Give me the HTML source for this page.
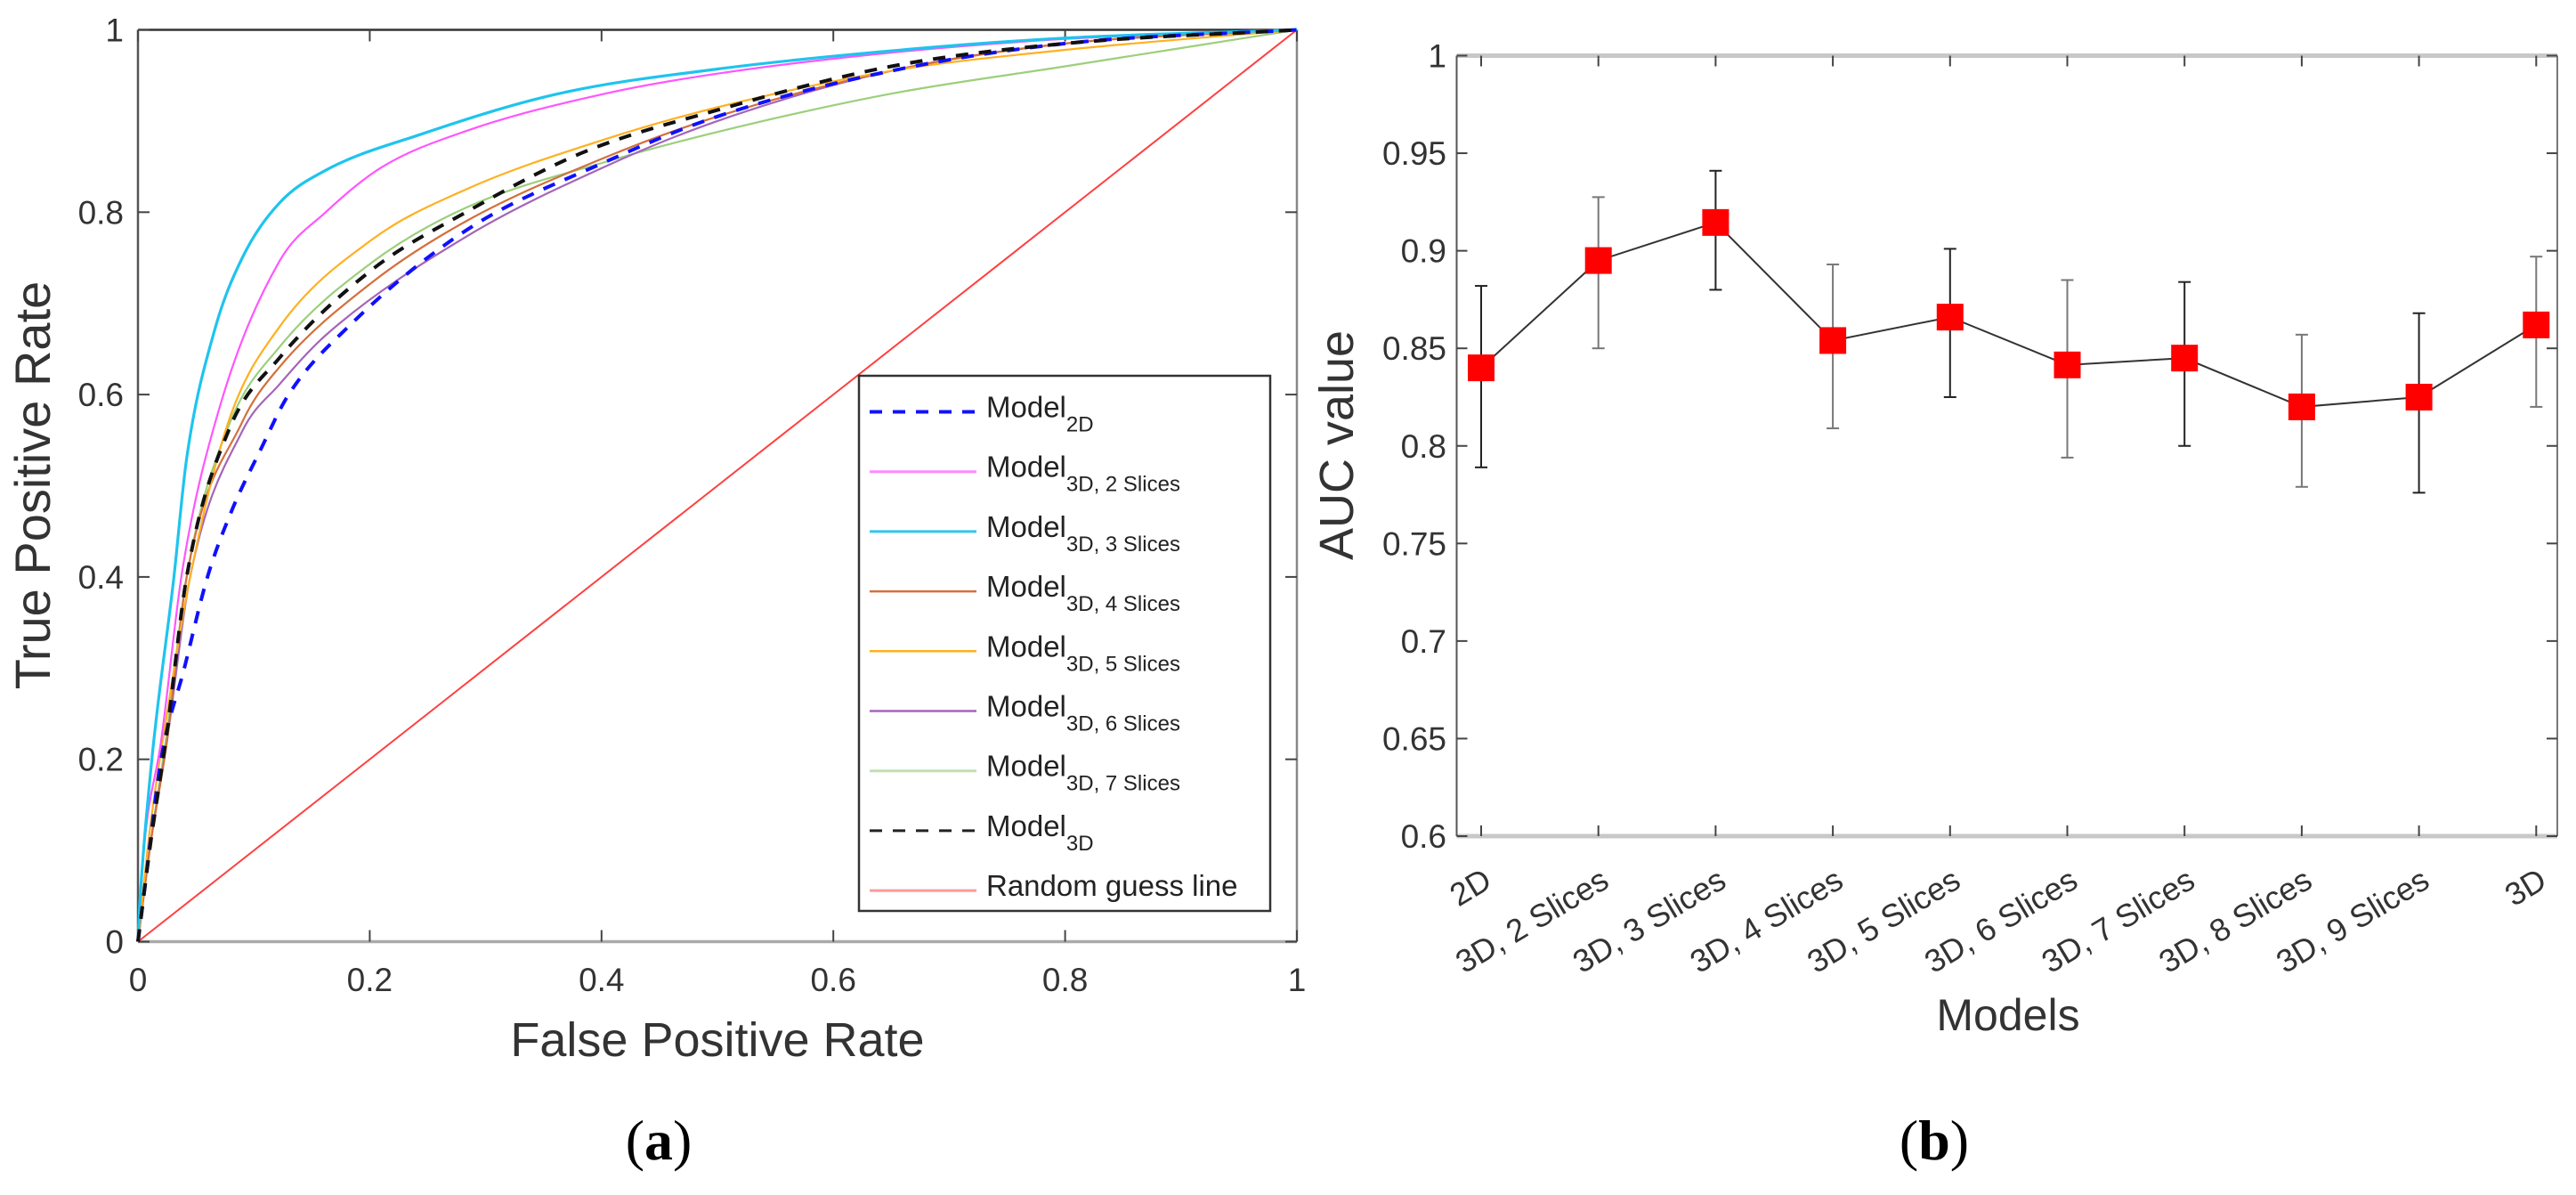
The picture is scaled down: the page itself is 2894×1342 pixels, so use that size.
<!DOCTYPE html>
<html><head><meta charset="utf-8">
<style>
html,body{margin:0;padding:0;background:#fff;}
svg{display:block;font-family:"Liberation Sans",sans-serif;}
</style></head>
<body>
<svg id="fig" width="2894" height="1342" viewBox="0 0 2894 1342" xmlns="http://www.w3.org/2000/svg">
<rect width="2894" height="1342" fill="#fff"/>
<g id="roc"></g>
<g id="auc"></g>
<text x="740" y="1302" font-family="Liberation Serif,serif" font-size="64" text-anchor="middle">(<tspan font-weight="bold">a</tspan>)</text>
<text x="2173" y="1302" font-family="Liberation Serif,serif" font-size="64" text-anchor="middle">(<tspan font-weight="bold">b</tspan>)</text>
</svg>
<script>
// ---------- ROC data ----------
const rocNames = ["2D","3D, 2 Slices","3D, 3 Slices","3D, 4 Slices","3D, 5 Slices","3D, 6 Slices","3D, 7 Slices","3D"];
const fpr2D = [0,0.005,0.02,0.04,0.06,0.08,0.106,0.13,0.182,0.283,0.403,0.5,0.65,0.8,1];
const tpr2D = [0,0.05,0.2,0.3,0.4,0.47,0.54,0.6,0.675,0.78,0.855,0.905,0.955,0.985,1];
const fpr3D2 = [0,0.005,0.02,0.038,0.07,0.122,0.162,0.21,0.283,0.403,0.5,0.65,0.8,1];
const tpr3D2 = [0,0.1,0.22,0.405,0.584,0.746,0.80,0.849,0.889,0.93,0.952,0.975,0.99,1];
const fpr3D3 = [0,0.002,0.012,0.031,0.042,0.066,0.09,0.122,0.162,0.243,0.363,0.5,0.65,0.8,1];
const tpr3D3 = [0,0.05,0.2,0.4,0.53,0.67,0.75,0.81,0.846,0.885,0.93,0.957,0.977,0.991,1];
const fpr3D4 = [0,0.01,0.025,0.042,0.09,0.122,0.202,0.283,0.403,0.5,0.65,0.8,1];
const tpr3D4 = [0,0.1,0.22,0.4,0.57,0.63,0.723,0.79,0.86,0.905,0.955,0.985,1];
const fpr3D5 = [0,0.01,0.025,0.045,0.078,0.122,0.202,0.283,0.403,0.5,0.65,0.8,1];
const tpr3D5 = [0,0.12,0.25,0.4,0.57,0.674,0.77,0.825,0.88,0.915,0.955,0.978,1];
const fpr3D6 = [0,0.01,0.025,0.045,0.09,0.122,0.162,0.283,0.403,0.5,0.65,0.8,1];
const tpr3D6 = [0,0.1,0.22,0.4,0.56,0.611,0.665,0.773,0.85,0.9,0.955,0.985,1];
const fpr3D7 = [0,0.01,0.025,0.042,0.078,0.122,0.202,0.283,0.403,0.5,0.65,0.8,0.9,1];
const tpr3D7 = [0,0.1,0.23,0.4,0.565,0.652,0.745,0.805,0.855,0.888,0.93,0.96,0.98,1];
const fpr3D = [0,0.01,0.025,0.042,0.078,0.122,0.202,0.283,0.383,0.5,0.65,0.8,1];
const tpr3D = [0,0.1,0.23,0.40,0.56,0.64,0.737,0.80,0.865,0.912,0.96,0.985,1];
const fprRandom = [0,1];
const tprRandom = [0,1];
const rocTicks = ["0","0.2","0.4","0.6","0.8","1"];
// ---------- AUC data ----------
const aucModels = ["2D","3D, 2 Slices","3D, 3 Slices","3D, 4 Slices","3D, 5 Slices","3D, 6 Slices","3D, 7 Slices","3D, 8 Slices","3D, 9 Slices","3D"];
const aucValues = [0.840,0.895,0.9145,0.854,0.866,0.8415,0.845,0.820,0.825,0.862];
const aucUpper = [0.882,0.9275,0.941,0.893,0.901,0.885,0.884,0.857,0.868,0.897];
const aucLower = [0.789,0.850,0.880,0.809,0.825,0.794,0.800,0.779,0.776,0.820];
const aucTicks = ["0.6","0.65","0.7","0.75","0.8","0.85","0.9","0.95","1"];

const NS="http://www.w3.org/2000/svg";
function mk(parent,tag,attrs,text){const e=document.createElementNS(NS,tag);for(const k in attrs)e.setAttribute(k,attrs[k]);if(text!==undefined)e.textContent=text;parent.appendChild(e);return e;}

function monoPath(xs,ys,sx,sy){
  const n=xs.length;
  if(n<3){return 'M'+xs.map((x,i)=>sx(x)+','+sy(ys[i])).join(' L');}
  const d=[],m=new Array(n);
  for(let i=0;i<n-1;i++)d.push((ys[i+1]-ys[i])/(xs[i+1]-xs[i]));
  m[0]=d[0];m[n-1]=d[n-2];
  for(let i=1;i<n-1;i++){m[i]=(d[i-1]*d[i]<=0)?0:(d[i-1]+d[i])/2;}
  for(let i=0;i<n-1;i++){
    if(d[i]===0){m[i]=0;m[i+1]=0;continue;}
    const a=m[i]/d[i],b=m[i+1]/d[i],s=a*a+b*b;
    if(s>9){const t=3/Math.sqrt(s);m[i]=t*a*d[i];m[i+1]=t*b*d[i];}
  }
  let p='M'+sx(xs[0]).toFixed(1)+','+sy(ys[0]).toFixed(1);
  for(let i=0;i<n-1;i++){
    const h=xs[i+1]-xs[i];
    const c1x=xs[i]+h/3,c1y=ys[i]+m[i]*h/3,c2x=xs[i+1]-h/3,c2y=ys[i+1]-m[i+1]*h/3;
    p+=' C'+sx(c1x).toFixed(1)+','+sy(c1y).toFixed(1)+' '+sx(c2x).toFixed(1)+','+sy(c2y).toFixed(1)+' '+sx(xs[i+1]).toFixed(1)+','+sy(ys[i+1]).toFixed(1);
  }
  return p;
}

const L={x0:155,x1:1457,y0:1057.5,y1:33.5};
const rx=v=>L.x0+v*(L.x1-L.x0);
const ry=v=>L.y0-v*(L.y0-L.y1);
const roc=document.getElementById('roc');
let e;
e=mk(roc,'line',{x1:L.x0,y1:L.y1,x2:L.x1,y2:L.y1,stroke:'#333','stroke-width':2.5});

e=mk(roc,'line',{x1:L.x1,y1:L.y1,x2:L.x1,y2:L.y0,stroke:'#888','stroke-width':2.5});

e=mk(roc,'line',{x1:L.x0,y1:L.y0,x2:L.x1,y2:L.y0,stroke:'#aaa','stroke-width':3.5});

e=mk(roc,'line',{x1:L.x0,y1:L.y1,x2:L.x0,y2:L.y0,stroke:'#555','stroke-width':2.5});

rocTicks.forEach((t,i)=>{
  const v=parseFloat(t);
  let tk=mk(roc,'line',{x1:rx(v),y1:L.y0,x2:rx(v),y2:L.y0-13,stroke:'#444','stroke-width':2});
  
  tk=mk(roc,'line',{x1:rx(v),y1:L.y1,x2:rx(v),y2:L.y1+13,stroke:'#444','stroke-width':2});
  
  tk=mk(roc,'line',{x1:L.x0,y1:ry(v),x2:L.x0+13,y2:ry(v),stroke:'#444','stroke-width':2});
  
  tk=mk(roc,'line',{x1:L.x1,y1:ry(v),x2:L.x1-13,y2:ry(v),stroke:'#444','stroke-width':2});
  
  let lb=mk(roc,'text',{x:rx(v),y:1113,'font-size':37,fill:'#333','text-anchor':'middle'},t);
  
  lb=mk(roc,'text',{x:139,y:ry(v)+13,'font-size':37,fill:'#333','text-anchor':'end'},t);
  
});
e=mk(roc,'text',{x:806,y:1186,'font-size':54,fill:'#333','text-anchor':'middle'},'False Positive Rate');

e=mk(roc,'text',{x:0,y:0,'font-size':56,fill:'#333','text-anchor':'middle',transform:'translate(56,545) rotate(-90)'},'True Positive Rate');


const series=[
 {f:fprRandom,t:tprRandom,c:'#ff4040',w:2,d:'',n:'random-guess-line'},
 {f:fpr3D7,t:tpr3D7,c:'#9ccf7c',w:2.2,d:'',n:'roc-3d-7-slices'},
 {f:fpr3D6,t:tpr3D6,c:'#a465b8',w:2.2,d:'',n:'roc-3d-6-slices'},
 {f:fpr3D4,t:tpr3D4,c:'#d2703c',w:2.2,d:'',n:'roc-3d-4-slices'},
 {f:fpr3D5,t:tpr3D5,c:'#ffb020',w:2.2,d:'',n:'roc-3d-5-slices'},
 {f:fpr3D2,t:tpr3D2,c:'#ff55ff',w:2.2,d:'',n:'roc-3d-2-slices'},
 {f:fpr3D3,t:tpr3D3,c:'#1ec4ee',w:3.2,d:'',n:'roc-3d-3-slices'},
 {f:fpr2D,t:tpr2D,c:'#1010ff',w:4,d:'14 12',n:'roc-2d'},
 {f:fpr3D,t:tpr3D,c:'#111',w:4,d:'14 12',n:'roc-3d'}
];
series.forEach(s=>{
  const p=mk(roc,'path',{d:monoPath(s.f,s.t,rx,ry),fill:'none',stroke:s.c,'stroke-width':s.w,'stroke-dasharray':s.d,'stroke-linejoin':'round'});
  
  
});
const lg=mk(roc,'g',{});


mk(lg,'rect',{x:965,y:422,width:462,height:601,fill:'#fff',stroke:'#333','stroke-width':2.5});
const legItems=[
 {c:'#1010ff',d:'14 12',w:4,main:'Model',sub:'2D'},
 {c:'#ff88ff',d:'',w:3,main:'Model',sub:'3D, 2 Slices'},
 {c:'#30c8f0',d:'',w:3,main:'Model',sub:'3D, 3 Slices'},
 {c:'#d2703c',d:'',w:2.5,main:'Model',sub:'3D, 4 Slices'},
 {c:'#ffb020',d:'',w:2.5,main:'Model',sub:'3D, 5 Slices'},
 {c:'#a465b8',d:'',w:2.5,main:'Model',sub:'3D, 6 Slices'},
 {c:'#c0e0b0',d:'',w:3,main:'Model',sub:'3D, 7 Slices'},
 {c:'#222',d:'14 12',w:3,main:'Model',sub:'3D'},
 {c:'#ff9a9a',d:'',w:3,main:'Random guess line',sub:''}
];
legItems.forEach((it,i)=>{
  const y=462.5+i*67.2;
  const ln=mk(lg,'line',{x1:977,y1:y,x2:1097,y2:y,stroke:it.c,'stroke-width':it.w,'stroke-dasharray':it.d});
  
  const tx=mk(lg,'text',{x:1108,y:y+6,'font-size':33,fill:'#222'});
  
  mk(tx,'tspan',{},it.main);
  if(it.sub){mk(tx,'tspan',{dy:16,'font-size':24},it.sub);}
});

const R={x0:1636.5,x1:2873,y0:939,y1:62.5};
const cx=i=>1664+i*131.7;
const ay=v=>R.y0-(v-0.6)/0.4*(R.y0-R.y1);
const auc=document.getElementById('auc');
e=mk(auc,'line',{x1:R.x0,y1:R.y1,x2:R.x1,y2:R.y1,stroke:'#c8c8c8','stroke-width':5});

e=mk(auc,'line',{x1:R.x0,y1:R.y0,x2:R.x1,y2:R.y0,stroke:'#c8c8c8','stroke-width':5});

e=mk(auc,'line',{x1:R.x0,y1:R.y1,x2:R.x0,y2:R.y0,stroke:'#555','stroke-width':2});

e=mk(auc,'line',{x1:R.x1,y1:R.y1,x2:R.x1,y2:R.y0,stroke:'#777','stroke-width':2});

aucTicks.forEach(t=>{
  const v=parseFloat(t);
  let tk=mk(auc,'line',{x1:R.x0,y1:ay(v),x2:R.x0+12,y2:ay(v),stroke:'#444','stroke-width':2});
  
  tk=mk(auc,'line',{x1:R.x1,y1:ay(v),x2:R.x1-12,y2:ay(v),stroke:'#444','stroke-width':2});
  
  const lb=mk(auc,'text',{x:1625,y:ay(v)+13,'font-size':37,fill:'#333','text-anchor':'end'},t);
  
});
aucModels.forEach((m,i)=>{
  let tk=mk(auc,'line',{x1:cx(i),y1:R.y0,x2:cx(i),y2:R.y0-12,stroke:'#444','stroke-width':2});
  
  tk=mk(auc,'line',{x1:cx(i),y1:R.y1,x2:cx(i),y2:R.y1+12,stroke:'#444','stroke-width':2});
  
  const lx=cx(i)+14, ly=995;
  const lb=mk(auc,'text',{x:lx,y:ly,'font-size':36,fill:'#333','text-anchor':'end',transform:`rotate(-31 ${lx} ${ly})`},m);
  
});
e=mk(auc,'text',{x:2256,y:1157,'font-size':50,fill:'#333','text-anchor':'middle'},'Models');

e=mk(auc,'text',{x:0,y:0,'font-size':54,fill:'#333','text-anchor':'middle',transform:'translate(1520,500) rotate(-90)'},'AUC value');

aucModels.forEach((m,i)=>{
  const col=(i%2===0)?'#222':'#777';
  const g=mk(auc,'g',{stroke:col,'stroke-width':2});
  
  
  mk(g,'line',{x1:cx(i),y1:ay(aucUpper[i]),x2:cx(i),y2:ay(aucLower[i])});
  mk(g,'line',{x1:cx(i)-7,y1:ay(aucUpper[i]),x2:cx(i)+7,y2:ay(aucUpper[i])});
  mk(g,'line',{x1:cx(i)-7,y1:ay(aucLower[i]),x2:cx(i)+7,y2:ay(aucLower[i])});
});
const pl=mk(auc,'polyline',{points:aucValues.map((v,i)=>cx(i)+','+ay(v)).join(' '),fill:'none',stroke:'#333','stroke-width':2});


aucValues.forEach((v,i)=>{
  const r=mk(auc,'rect',{x:cx(i)-15,y:ay(v)-15,width:30,height:30,fill:'#ff0000'});
  
  
});
</script>
</body></html>
